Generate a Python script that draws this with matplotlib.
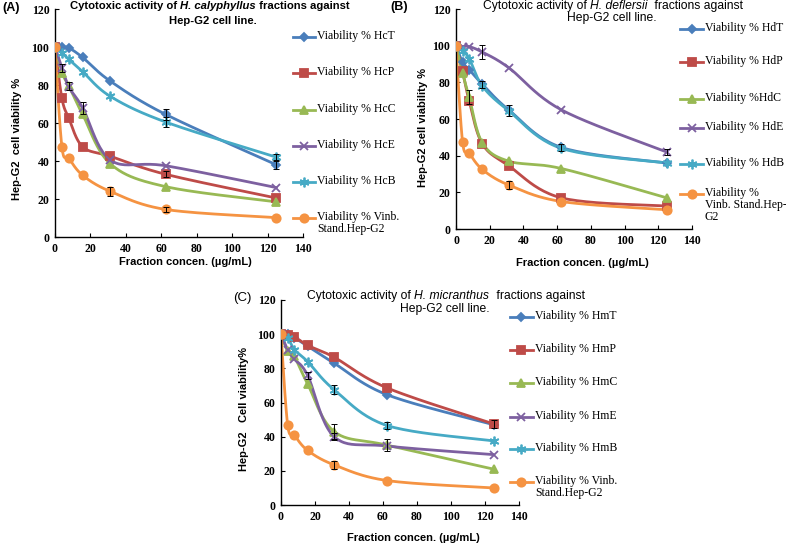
import numpy as np
import matplotlib
matplotlib.use("Agg")
import matplotlib.pyplot as plt
from matplotlib.lines import Line2D

# fraction concentrations (ug/mL)
conc = [0, 3.9, 7.8, 15.6, 31.25, 62.5, 125]

# (A) H. calyphyllus
a_labels = ["Viability % HcT", "Viability % HcP", "Viability % HcC",
            "Viability % HcE", "Viability % HcB", "Viability % Vinb.\nStand.Hep-G2"]
a_t = [100, 100, 99.5, 94.5, 82, 64.5, 38]
a_p = [100, 73, 62.5, 47.5, 42.5, 33, 20.5]
a_c = [100, 86.5, 79.5, 64.5, 38.5, 26.5, 18.5]
a_e = [100, 89, 79, 68, 40.5, 37.5, 26]
a_b = [100, 97, 93.5, 87, 74, 60.5, 42]
a_v = [100, 47.5, 41.5, 32.5, 24, 14.5, 10.2]
a_t_err = [0, 0, 0, 0, 0, 3, 2]
a_p_err = [0, 0, 0, 0, 0, 1.5, 0]
a_c_err = [0, 0, 2, 0, 0, 0, 0]
a_e_err = [0, 2, 0, 3, 0, 0, 0]
a_b_err = [0, 0, 0, 0, 0, 2.5, 1.5]
a_v_err = [0, 0, 0, 0, 2.5, 1.5, 0]

# (B) H. deflersii
b_labels = ["Viability % HdT", "Viability % HdP", "Viability %HdC",
            "Viability % HdE", "Viability % HdB", "Viability %\nVinb. Stand.Hep-\nG2"]
b_t = [100, 91, 87, 79, 65, 44.5, 36]
b_p = [100, 86, 70, 46.5, 34.5, 17, 12.5]
b_c = [100, 85, 72, 47, 37, 33, 17]
b_e = [100, 99.5, 99.5, 96.5, 88, 65, 42]
b_b = [100, 97, 93, 78, 64.5, 44, 36]
b_v = [100, 47.5, 41.5, 32.5, 24, 15, 10.5]
b_t_err = [0, 0, 0, 2, 0, 2, 0]
b_p_err = [0, 0, 0, 0, 0, 0, 0]
b_c_err = [0, 0, 4, 0, 0, 0, 0]
b_e_err = [0, 0, 0, 4, 0, 0, 1.5]
b_b_err = [0, 0, 0, 0, 3, 0, 0]
b_v_err = [0, 0, 0, 0, 2, 0, 0]

# (C) H. micranthus
c_labels = ["Viability % HmT", "Viability % HmP", "Viability % HmC",
            "Viability % HmE", "Viability % HmB", "Viability % Vinb.\nStand.Hep-G2"]
c_t = [100, 100, 98, 93, 83, 64.5, 47]
c_p = [100, 99.5, 98.5, 93.5, 86.5, 68.5, 47.5]
c_c = [100, 90, 87, 71, 43, 35, 21]
c_e = [100, 91, 85.5, 76, 40, 34.5, 29.5]
c_b = [100, 98, 91, 84, 67.5, 46.5, 37.5]
c_v = [100, 47, 41, 32, 23.5, 14.3, 10]
c_t_err = [0, 0, 0, 0, 0, 0, 0]
c_p_err = [0, 0, 0, 0, 0, 0, 2.5]
c_c_err = [0, 0, 0, 0, 4.5, 3.5, 0]
c_e_err = [0, 0, 0, 2, 2, 0, 0]
c_b_err = [0, 0, 0, 0, 2.5, 2, 0]
c_v_err = [0, 0, 0, 0, 2.5, 0, 0]

# excel 2007 style series formats: color, marker, size
styles = [
    ("#4A7EBB", "D", 4.5),
    ("#BE4B48", "s", 5.5),
    ("#98B954", "^", 6),
    ("#7D60A0", "x", 6),
    ("#46AAC5", (6, 2, 0), 7),
    ("#F59342", "o", 6),
]

SANS = "Liberation Sans"
SERIF = "Liberation Serif"
W, H = 786.0, 546.0


def smooth(x, y, xr=140.0, yr=120.0, n=25):
    # excel like smoothed line (bezier with 1/6 tangents)
    pts = np.column_stack([np.asarray(x, float) / xr, np.asarray(y, float) / yr])
    ext = np.vstack([pts[0], pts, pts[-1]])
    t = np.linspace(0, 1, n)[:, None]
    out = []
    for i in range(len(pts) - 1):
        p0, p1, p2, p3 = ext[i], ext[i + 1], ext[i + 2], ext[i + 3]
        c1 = p1 + (p2 - p0) / 6
        c2 = p2 - (p3 - p1) / 6
        seg = (1 - t) ** 3 * p1 + 3 * (1 - t) ** 2 * t * c1 + 3 * (1 - t) * t ** 2 * c2 + t ** 3 * p2
        out.append(seg if i == 0 else seg[1:])
    out = np.vstack(out)
    return out[:, 0] * xr, out[:, 1] * yr


def draw_panel(ax, series, errs, labels, key_x, key_ys, ylabel, ylab_xy, xlab_xy):
    for (col, mk, ms), y, err in zip(styles, series, errs):
        sx, sy = smooth(conc, y)
        ax.plot(sx, sy, color=col, lw=2, zorder=2, solid_capstyle="round")
        ax.plot(conc, y, ls="none", marker=mk, ms=ms, color=col, mec=col,
                mew=1.3, zorder=3)
        err = np.asarray(err, float)
        m = err > 0
        if m.any():
            ax.errorbar(np.asarray(conc)[m], np.asarray(y)[m], yerr=err[m], fmt="none",
                        ecolor="black", elinewidth=0.7, capsize=2.2, capthick=0.7, zorder=4)

    ax.set_xlim(0, 140)
    ax.set_ylim(0, 120)
    ax.set_xticks(range(0, 141, 20))
    ax.set_yticks(range(0, 121, 20))
    ax.spines["top"].set_visible(False)
    ax.spines["right"].set_visible(False)
    for s in ("left", "bottom"):
        ax.spines[s].set_linewidth(1.0)
    ax.tick_params(direction="in", length=3, width=0.8, pad=4)
    for lab in ax.get_xticklabels() + ax.get_yticklabels():
        lab.set_fontfamily(SERIF)
        lab.set_fontweight("bold")
        lab.set_fontsize(8.5)

    ax.set_xlabel("Fraction concen. (\u00b5g/mL)", fontfamily=SANS, fontweight="bold", fontsize=8)
    ax.xaxis.set_label_coords(*xlab_xy)
    ax.set_ylabel(ylabel, fontfamily=SANS, fontweight="bold", fontsize=8)
    ax.yaxis.set_label_coords(*ylab_xy)

    # legend drawn by hand, excel puts it at the right of the plot area
    x0, x1, xt = key_x
    for (col, mk, ms), lab, ky in zip(styles, labels, key_ys):
        ln = Line2D([x0, (x0 + x1) / 2, x1], [ky, ky, ky], transform=ax.transAxes,
                    color=col, lw=2, marker=mk, ms=ms, mec=col, mew=1.3,
                    markevery=[1], clip_on=False)
        ax.add_line(ln)
        ax.annotate(lab, xy=(xt, ky), xycoords="axes fraction", xytext=(0, 5),
                    textcoords="offset points", va="top", ha="left",
                    fontfamily=SERIF, fontsize=8.5, linespacing=1.0)


def mixed_title(ax, x0, y1, xc, y2, species, weight, size=7):
    # first line has the species name in italics, chained pieces
    kw = dict(fontfamily=SANS, fontweight=weight, fontsize=size)
    t1 = ax.annotate("Cytotoxic activity of ", xy=(x0 / W, 1 - y1 / H),
                     xycoords="figure fraction", ha="left", va="center", **kw)
    t2 = ax.annotate(species, xy=(1, 0), xycoords=t1, ha="left", va="bottom",
                     fontstyle="italic", **kw)
    ax.annotate(" fractions against", xy=(1, 0), xycoords=t2, ha="left", va="bottom", **kw)
    ax.annotate("Hep-G2 cell line.", xy=(xc / W, 1 - y2 / H), xycoords="figure fraction",
                ha="center", va="center", **kw)


fig = plt.figure(figsize=(7.86, 5.46), dpi=100)


def axes_px(left, right, top, bottom):
    return fig.add_axes([left / W, 1 - bottom / H, (right - left) / W, (bottom - top) / H])


ax_a = axes_px(55, 303, 9, 237)
ax_b = axes_px(456, 692, 9, 229)
ax_c = axes_px(281, 519, 300, 505)

draw_panel(ax_a, [a_t, a_p, a_c, a_e, a_b, a_v],
           [a_t_err, a_p_err, a_c_err, a_e_err, a_b_err, a_v_err], a_labels,
           (0.96, 1.048, 1.056), [0.877, 0.719, 0.557, 0.399, 0.241, 0.083],
           "Hep-G2  cell viability %", (-0.135, 0.43), (0.524, -0.088))
draw_panel(ax_b, [b_t, b_p, b_c, b_e, b_b, b_v],
           [b_t_err, b_p_err, b_c_err, b_e_err, b_b_err, b_v_err], b_labels,
           (0.949, 1.047, 1.055), [0.909, 0.759, 0.591, 0.459, 0.295, 0.159],
           "Hep-G2 cell viability %", (-0.118, 0.46), (0.534, -0.132))
draw_panel(ax_c, [c_t, c_p, c_c, c_e, c_b, c_v],
           [c_t_err, c_p_err, c_c_err, c_e_err, c_b_err, c_v_err], c_labels,
           (0.962, 1.059, 1.067), [0.917, 0.756, 0.595, 0.429, 0.273, 0.112],
           "Hep-G2   Cell viability%", (-0.133, 0.47), (0.555, -0.137))

mixed_title(ax_a, 70, 6, 213, 21, "H. calyphyllus", "bold", 8.1)
mixed_title(ax_b, 483, 6, 612, 18, "H. deflersii ", "normal", 8.7)
mixed_title(ax_c, 307, 296, 445, 309, "H. micranthus ", "normal", 8.7)

fig.text(2 / W, 1 - 8 / H, "(A)", fontfamily=SANS, fontweight="bold", fontsize=9, va="center")
fig.text(390 / W, 1 - 7 / H, "(B)", fontfamily=SANS, fontweight="bold", fontsize=9, va="center")
fig.text(233 / W, 1 - 298 / H, "(C)", fontfamily=SANS, fontsize=9.5, va="center")

fig.savefig("out.png", dpi=100)
